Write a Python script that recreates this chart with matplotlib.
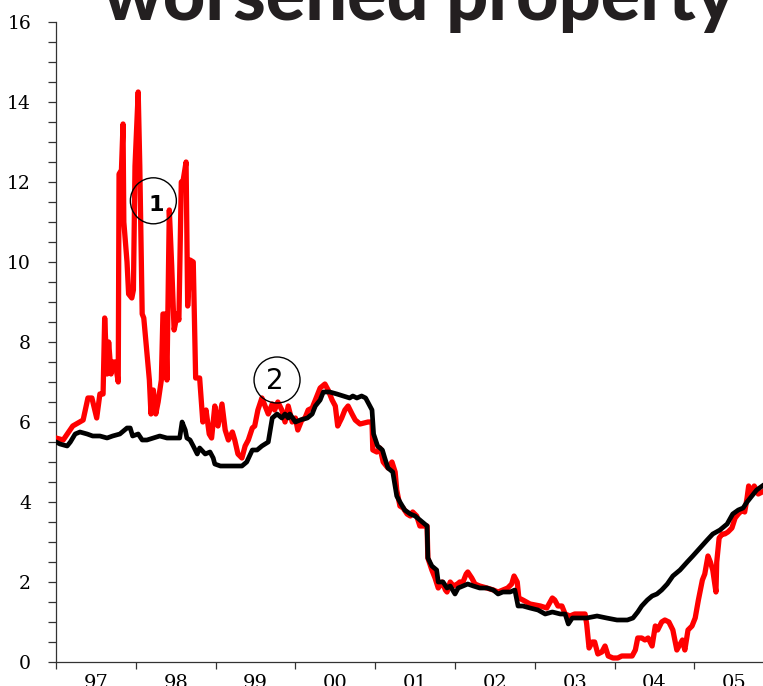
import matplotlib
matplotlib.use("Agg")
import matplotlib.pyplot as plt
from matplotlib.patches import Ellipse
from matplotlib.ticker import MultipleLocator, FixedLocator, NullFormatter, FixedFormatter

# ---- data (decimal years, values) ----
red_years = [1997.00, 1997.09, 1997.21, 1997.34, 1997.40, 1997.45, 1997.51, 1997.55, 1997.59, 1997.61,
             1997.64, 1997.66, 1997.69, 1997.71, 1997.74, 1997.78, 1997.79, 1997.82, 1997.84, 1997.85,
             1997.89, 1997.91, 1997.95, 1997.97, 1997.99, 1998.03, 1998.05, 1998.08, 1998.10, 1998.14,
             1998.17, 1998.19, 1998.22, 1998.25, 1998.28, 1998.32, 1998.34, 1998.37, 1998.39, 1998.42,
             1998.45, 1998.48, 1998.52, 1998.54, 1998.57, 1998.59, 1998.63, 1998.65, 1998.68, 1998.72,
             1998.75, 1998.80, 1998.84, 1998.88, 1998.92, 1998.95, 1998.99, 1999.03, 1999.08, 1999.12,
             1999.16, 1999.21, 1999.24, 1999.28, 1999.33, 1999.37, 1999.41, 1999.46, 1999.49, 1999.53,
             1999.58, 1999.62, 1999.66, 1999.71, 1999.74, 1999.78, 1999.83, 1999.87, 1999.91, 1999.96,
             2000.00, 2000.03, 2000.08, 2000.12, 2000.16, 2000.21, 2000.25, 2000.31, 2000.37, 2000.41,
             2000.46, 2000.50, 2000.53, 2000.58, 2000.62, 2000.66, 2000.71, 2000.75, 2000.81, 2000.91,
             2000.96, 2000.97, 2001.02, 2001.06, 2001.10, 2001.16, 2001.21, 2001.25, 2001.27, 2001.31,
             2001.35, 2001.40, 2001.44, 2001.47, 2001.52, 2001.56, 2001.60, 2001.65, 2001.66, 2001.71,
             2001.75, 2001.79, 2001.84, 2001.88, 2001.90, 2001.94, 2001.98, 2002.03, 2002.06, 2002.10,
             2002.14, 2002.16, 2002.21, 2002.25, 2002.31, 2002.40, 2002.48, 2002.54, 2002.60, 2002.66,
             2002.71, 2002.74, 2002.78, 2002.80, 2002.85, 2002.94, 2003.07, 2003.15, 2003.22, 2003.25,
             2003.29, 2003.34, 2003.38, 2003.44, 2003.50, 2003.57, 2003.63, 2003.65, 2003.68, 2003.72,
             2003.75, 2003.79, 2003.84, 2003.88, 2003.92, 2003.98, 2004.04, 2004.09, 2004.16, 2004.22,
             2004.26, 2004.29, 2004.34, 2004.38, 2004.42, 2004.47, 2004.51, 2004.54, 2004.59, 2004.63,
             2004.68, 2004.73, 2004.78, 2004.85, 2004.88, 2004.92, 2004.97, 2005.01, 2005.05, 2005.10,
             2005.13, 2005.17, 2005.20, 2005.23, 2005.27, 2005.28, 2005.31, 2005.35, 2005.38, 2005.42,
             2005.47, 2005.51, 2005.55, 2005.60, 2005.63, 2005.66, 2005.68, 2005.72, 2005.75, 2005.80,
             2005.85]
red_values = [5.60, 5.55, 5.90, 6.05, 6.60, 6.60, 6.10, 6.70, 6.70, 8.60,
              7.20, 8.00, 7.20, 7.50, 7.50, 7.00, 12.20, 12.30, 13.45, 11.00,
              10.00, 9.20, 9.10, 9.30, 12.40, 14.25, 12.40, 8.70, 8.60, 7.70,
              7.05, 6.20, 6.80, 6.20, 6.50, 7.05, 8.70, 8.70, 7.05, 11.30,
              9.90, 8.30, 8.70, 8.55, 12.00, 12.00, 12.50, 8.90, 10.05, 10.00,
              7.10, 7.10, 6.00, 6.30, 5.70, 5.60, 6.40, 5.90, 6.45, 5.80,
              5.55, 5.75, 5.55, 5.20, 5.10, 5.40, 5.55, 5.85, 5.90, 6.30,
              6.60, 6.40, 6.20, 6.45, 6.30, 6.50, 6.30, 6.00, 6.40, 6.00,
              6.10, 5.80, 6.05, 6.10, 6.30, 6.35, 6.55, 6.85, 6.95, 6.80,
              6.55, 6.40, 5.90, 6.10, 6.30, 6.40, 6.20, 6.05, 5.95, 6.00,
              6.00, 5.30, 5.25, 5.35, 5.00, 4.85, 5.00, 4.75, 4.30, 3.90,
              3.85, 3.70, 3.65, 3.75, 3.65, 3.40, 3.40, 3.40, 2.60, 2.30,
              2.10, 1.85, 2.00, 1.80, 1.75, 2.00, 1.90, 1.95, 2.00, 2.00,
              2.20, 2.25, 2.10, 1.95, 1.90, 1.85, 1.80, 1.75, 1.80, 1.85,
              1.95, 2.15, 2.00, 1.60, 1.55, 1.45, 1.40, 1.35, 1.60, 1.55,
              1.40, 1.40, 1.20, 1.15, 1.20, 1.20, 1.20, 0.95, 0.35, 0.50,
              0.50, 0.20, 0.25, 0.40, 0.15, 0.10, 0.10, 0.15, 0.15, 0.15,
              0.30, 0.60, 0.60, 0.55, 0.60, 0.40, 0.90, 0.80, 1.00, 1.05,
              1.00, 0.80, 0.30, 0.55, 0.30, 0.80, 0.90, 1.10, 1.55, 2.05,
              2.20, 2.65, 2.50, 2.30, 1.75, 2.50, 3.10, 3.20, 3.20, 3.25,
              3.35, 3.60, 3.70, 3.80, 3.75, 4.10, 4.40, 4.20, 4.40, 4.20,
              4.25]

black_years = [1997.00, 1997.05, 1997.14, 1997.18, 1997.24, 1997.30, 1997.39, 1997.46, 1997.55, 1997.64,
               1997.71, 1997.80, 1997.89, 1997.93, 1997.96, 1998.03, 1998.08, 1998.14, 1998.22, 1998.30,
               1998.39, 1998.47, 1998.55, 1998.58, 1998.62, 1998.64, 1998.68, 1998.72, 1998.77, 1998.80,
               1998.87, 1998.93, 1998.97, 1998.99, 1999.06, 1999.12, 1999.21, 1999.27, 1999.33, 1999.39,
               1999.46, 1999.52, 1999.58, 1999.62, 1999.66, 1999.71, 1999.77, 1999.83, 1999.87, 1999.91,
               1999.93, 2000.00, 2000.06, 2000.15, 2000.21, 2000.25, 2000.31, 2000.35, 2000.43, 2000.52,
               2000.60, 2000.68, 2000.72, 2000.77, 2000.83, 2000.88, 2000.92, 2000.96, 2000.98, 2001.03,
               2001.09, 2001.12, 2001.16, 2001.22, 2001.27, 2001.31, 2001.37, 2001.44, 2001.50, 2001.56,
               2001.62, 2001.65, 2001.66, 2001.71, 2001.77, 2001.79, 2001.85, 2001.90, 2001.94, 2002.00,
               2002.04, 2002.10, 2002.16, 2002.23, 2002.31, 2002.40, 2002.48, 2002.54, 2002.60, 2002.69,
               2002.75, 2002.79, 2002.85, 2002.94, 2003.04, 2003.13, 2003.22, 2003.32, 2003.38, 2003.42,
               2003.47, 2003.54, 2003.65, 2003.78, 2003.90, 2004.03, 2004.16, 2004.23, 2004.29, 2004.34,
               2004.41, 2004.47, 2004.53, 2004.59, 2004.66, 2004.73, 2004.82, 2004.91, 2004.98, 2005.07,
               2005.16, 2005.23, 2005.32, 2005.41, 2005.48, 2005.55, 2005.61, 2005.66, 2005.72, 2005.78,
               2005.85]
black_values = [5.50, 5.45, 5.40, 5.50, 5.70, 5.75, 5.70, 5.65, 5.65, 5.60,
                5.65, 5.70, 5.85, 5.85, 5.65, 5.70, 5.55, 5.55, 5.60, 5.65,
                5.60, 5.60, 5.60, 6.00, 5.80, 5.60, 5.55, 5.40, 5.20, 5.35,
                5.20, 5.25, 5.10, 4.95, 4.90, 4.90, 4.90, 4.90, 4.90, 5.00,
                5.30, 5.30, 5.40, 5.45, 5.50, 6.10, 6.20, 6.10, 6.20, 6.10,
                6.20, 6.00, 6.05, 6.10, 6.20, 6.40, 6.55, 6.75, 6.75, 6.70,
                6.65, 6.60, 6.65, 6.60, 6.65, 6.60, 6.45, 6.30, 5.70, 5.40,
                5.30, 5.10, 4.85, 4.75, 4.15, 4.00, 3.80, 3.70, 3.65, 3.55,
                3.45, 3.40, 2.60, 2.40, 2.30, 2.00, 2.00, 1.85, 1.90, 1.70,
                1.85, 1.90, 1.95, 1.90, 1.85, 1.85, 1.80, 1.70, 1.75, 1.75,
                1.80, 1.40, 1.40, 1.35, 1.30, 1.20, 1.25, 1.20, 1.20, 0.95,
                1.10, 1.10, 1.10, 1.15, 1.10, 1.05, 1.05, 1.10, 1.25, 1.40,
                1.55, 1.65, 1.70, 1.80, 1.95, 2.15, 2.30, 2.50, 2.65, 2.85,
                3.05, 3.20, 3.30, 3.45, 3.70, 3.80, 3.85, 4.00, 4.15, 4.30,
                4.40]

year_ticks = [1997, 1998, 1999, 2000, 2001, 2002, 2003, 2004, 2005]
year_labels = ["97", "98", "99", "00", "01", "02", "03", "04", "05"]
title_text = "worsened property"
notes = ["1", "2"]
note_centers = [(1998.22, 11.53), (1999.77, 7.05)]

# ---- figure ----
W, H = 763, 686
fig = plt.figure(figsize=(W / 100, H / 100), dpi=100)
ax = fig.add_axes([56 / W, 1 - 662 / H, 1 - 56 / W, (662 - 22) / H])

ax.plot(red_years, red_values, color="#ff0000", lw=3.8, solid_joinstyle="round", zorder=3)
ax.plot(black_years, black_values, color="#000000", lw=3.4, solid_joinstyle="round", zorder=4)

ax.set_xlim(1997.0, 1997.0 + 707 / 79.8)
ax.set_ylim(0, 16)

for s in ["top", "right"]:
    ax.spines[s].set_visible(False)
for s in ["left", "bottom"]:
    ax.spines[s].set_color("#333333")
    ax.spines[s].set_linewidth(0.9)

ax.yaxis.set_major_locator(MultipleLocator(2))
ax.yaxis.set_minor_locator(MultipleLocator(0.5))
ax.tick_params(axis="y", which="both", direction="out", length=6, width=0.9,
               color="#333333", pad=12)
ax.tick_params(axis="y", which="major", labelsize=13.5)
for lab in ax.get_yticklabels():
    lab.set_family("DejaVu Serif")

ax.xaxis.set_major_locator(FixedLocator(year_ticks))
ax.xaxis.set_major_formatter(NullFormatter())
ax.xaxis.set_minor_locator(FixedLocator([y + 0.5 for y in year_ticks]))
ax.xaxis.set_minor_formatter(FixedFormatter(year_labels))
ax.tick_params(axis="x", which="major", direction="out", length=5, width=0.9, color="#333333")
ax.tick_params(axis="x", which="minor", length=0, pad=9, labelsize=14)
for lab in ax.xaxis.get_minorticklabels():
    lab.set_family("DejaVu Serif")

# circled notes
for txt, (cx, cy) in zip(notes, note_centers):
    ax.add_patch(Ellipse((cx, cy), width=46 / 79.8, height=46 / 40, fill=False,
                         edgecolor="black", lw=1.0, zorder=5, clip_on=False))
ax.text(1998.26, 11.43, notes[0], fontsize=16, fontweight="bold", ha="center", va="center",
        family="DejaVu Sans", zorder=6)
ax.text(1999.74, 7.03, notes[1], fontsize=20, ha="center", va="center",
        family="DejaVu Sans", zorder=6)

# title (partly cut off at the top, as in the source)
t = fig.text(419 / W, 1 - 20 / H, title_text, ha="center", va="baseline",
             fontsize=48, fontweight=900, family=["Lato", "DejaVu Sans"], color="#231f20")
fig.canvas.draw()
bb = t.get_window_extent()
t.set_fontsize(48 * 632 / bb.width)

fig.savefig("out.png", dpi=100)
